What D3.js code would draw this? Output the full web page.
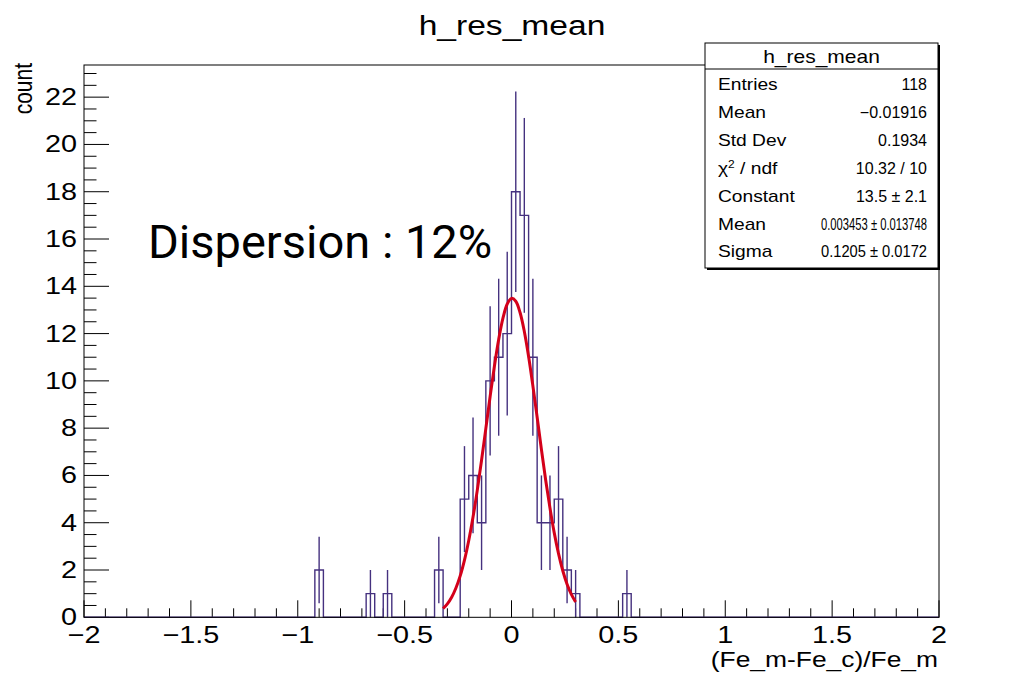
<!DOCTYPE html>
<html>
<head>
<meta charset="utf-8">
<script src="https://cdn.jsdelivr.net/npm/d3@7"></script>
<style>
  body { margin: 0; background: #fff; }
  svg { display: block; }
  text { font-family: "Liberation Sans", Arial, sans-serif; fill: #000; }
</style>
</head>
<body>
<div class="chart"></div>
<script>
// histogram bins (centres, contents, errors), bin width 0.04
const binCenters = [-0.90, -0.66, -0.58, -0.34, -0.22, -0.18, -0.14, -0.10, -0.06, -0.02,
                    0.02, 0.06, 0.10, 0.14, 0.18, 0.22, 0.26, 0.30, 0.54];
const counts = [2, 1, 1, 2, 5, 6, 4, 10, 11, 12, 18, 17, 11, 4, 4, 5, 2, 1, 1];
const errors = [1.41, 1, 1, 1.41, 2.24, 2.45, 2, 3.16, 3.32, 3.46, 4.24, 4.12, 3.32, 2, 2, 2.24, 1.41, 1, 1];

// gaussian fit curve
const fitX = [-0.32, -0.30, -0.28, -0.26, -0.24, -0.22, -0.20, -0.18, -0.16, -0.14, -0.12, -0.10,
              -0.08, -0.06, -0.04, -0.02, 0.00, 0.02, 0.04, 0.06, 0.08, 0.10, 0.12, 0.14,
              0.16, 0.18, 0.20, 0.22, 0.24, 0.26, 0.28, 0.30];
const fitY = [0.37, 0.57, 0.85, 1.24, 1.75, 2.42, 3.25, 4.24, 5.38, 6.65, 7.99, 9.34,
              10.62, 11.75, 12.65, 13.25, 13.49, 13.37, 12.89, 12.09, 11.03, 9.79, 8.46, 7.10,
              5.80, 4.62, 3.57, 2.69, 1.97, 1.40, 0.97, 0.65];

const xTicks = [-2, -1.5, -1, -0.5, 0, 0.5, 1, 1.5, 2];
const yTicks = [0, 2, 4, 6, 8, 10, 12, 14, 16, 18, 20, 22];

const statsLabels = ["Entries", "Mean", "Std Dev", "chi2", "Constant", "Mean", "Sigma"];
const statsValues = ["118", "\u22120.01916", "0.1934", "10.32 / 10", "13.5 \u00b1 2.1",
                     "0.003453 \u00b1 0.013748", "0.1205 \u00b1 0.0172"];

const W = 1024, H = 679;
const binW = 0.04;
const fL = 84, fR = 939, fT = 65, fB = 617.3;
const SX = 1.2; // ROOT text in the picture is stretched sideways

const svg = d3.select('.chart').append('svg')
    .attr('width', W)
    .attr('height', H);

const x = d3.scaleLinear().domain([-2, 2]).range([fL, fR]);
const y = d3.scaleLinear().domain([0, 23.36]).range([fB, fT]);

function label(x0, y0, s, size, anchor, sx) {
    return svg.append('text')
        .attr('transform', `translate(${x0},${y0}) scale(${sx || SX},1)`)
        .attr('text-anchor', anchor)
        .style('font-size', size + 'px')
        .text(s);
}

// ticks
const xMinor = d3.range(-20, 21).map(d => d / 10).filter(d => Math.abs(d * 2 - Math.round(d * 2)) > 1e-6);
const yMinor = d3.range(0, 47).map(d => d / 2).filter(d => d % 2 !== 0);

svg.append('g').selectAll('line')
    .data(xTicks).enter().append('line')
    .attr('x1', d => x(d)).attr('x2', d => x(d))
    .attr('y1', fB).attr('y2', fB - 17)
    .attr('stroke', '#000');
svg.append('g').selectAll('line')
    .data(xMinor).enter().append('line')
    .attr('x1', d => x(d)).attr('x2', d => x(d))
    .attr('y1', fB).attr('y2', fB - 9)
    .attr('stroke', '#000');
svg.append('g').selectAll('line')
    .data(yTicks).enter().append('line')
    .attr('x1', fL).attr('x2', fL + 25)
    .attr('y1', d => y(d)).attr('y2', d => y(d))
    .attr('stroke', '#000');
svg.append('g').selectAll('line')
    .data(yMinor).enter().append('line')
    .attr('x1', fL).attr('x2', fL + 12.5)
    .attr('y1', d => y(d)).attr('y2', d => y(d))
    .attr('stroke', '#000');

const fmt = d3.format('');
xTicks.forEach(d => label(x(d), 643, fmt(d), 24, 'middle'));
yTicks.forEach(d => label(77, y(d) + 8, fmt(d), 24, 'end'));

// histogram outline
const nb = 100;
const content = new Array(nb).fill(0);
binCenters.forEach((c, i) => { content[Math.round((c + 2) / binW - 0.5)] = counts[i]; });
let d = `M${x(-2)},${y(0)}`;
content.forEach((c, i) => {
    const lo = -2 + i * binW, hi = lo + binW;
    d += `L${x(lo)},${y(c)}L${x(hi)},${y(c)}`;
});
d += `L${x(2)},${y(0)}`;
svg.append('path')
    .attr('d', d)
    .attr('fill', 'none')
    .attr('stroke', '#45317f')
    .attr('stroke-width', 1.4);

// error bars
svg.append('g').selectAll('line')
    .data(binCenters).enter().append('line')
    .attr('x1', c => x(c)).attr('x2', c => x(c))
    .attr('y1', (c, i) => y(counts[i] - errors[i]))
    .attr('y2', (c, i) => y(counts[i] + errors[i]))
    .attr('stroke', '#45317f')
    .attr('stroke-width', 1.4);

// fit
const line = d3.line()
    .x((v, i) => x(fitX[i]))
    .y(v => y(v))
    .curve(d3.curveCatmullRom);
svg.append('path')
    .datum(fitY)
    .attr('d', line)
    .attr('fill', 'none')
    .attr('stroke', '#d4001a')
    .attr('stroke-width', 3);

// frame
svg.append('rect')
    .attr('x', fL).attr('y', fT)
    .attr('width', fR - fL).attr('height', fB - fT)
    .attr('fill', 'none')
    .attr('stroke', '#000');

// titles
label(512, 35, 'h_res_mean', 28, 'middle');
label(938, 667, '(Fe_m-Fe_c)/Fe_m', 22, 'end');
svg.append('text')
    .attr('transform', `translate(32,63) rotate(-90) scale(1,${SX})`)
    .attr('text-anchor', 'end')
    .style('font-size', '21px')
    .text('count');

// stats box
const bx = 705, by = 43, bw = 233, bh = 225;
svg.append('rect')
    .attr('x', bx + 2).attr('y', by + 2).attr('width', bw).attr('height', bh)
    .attr('fill', '#000');
svg.append('rect')
    .attr('x', bx).attr('y', by).attr('width', bw).attr('height', bh)
    .attr('fill', '#fff').attr('stroke', '#000');
svg.append('line')
    .attr('x1', bx).attr('x2', bx + bw)
    .attr('y1', 69).attr('y2', 69)
    .attr('stroke', '#000');
label(bx + bw / 2, 63, 'h_res_mean', 17.5, 'middle');

const maxValW = 106;
statsLabels.forEach((s, i) => {
    const yy = 84 + i * 27.9 + 6;
    if (s === 'chi2') {
        const t = label(718, yy, '', 16, 'start');
        t.append('tspan').text('\u03c7');
        t.append('tspan').attr('dy', -6).style('font-size', '10px').text('2');
        t.append('tspan').attr('dy', 6).text(' / ndf');
    } else {
        label(718, yy, s, 16, 'start');
    }
    const v = label(927, yy, statsValues[i], 16, 'end', 1);
    // long values are squeezed to fit the box, as ROOT does
    if (v.node().getComputedTextLength() > maxValW) {
        v.attr('textLength', maxValW).attr('lengthAdjust', 'spacingAndGlyphs');
    }
});

// annotation
svg.append('text')
    .attr('x', 148).attr('y', 258)
    .style('font-family', 'Roboto')
    .style('font-size', '47px')
    .text('Dispersion : 12%');
</script>
</body>
</html>
